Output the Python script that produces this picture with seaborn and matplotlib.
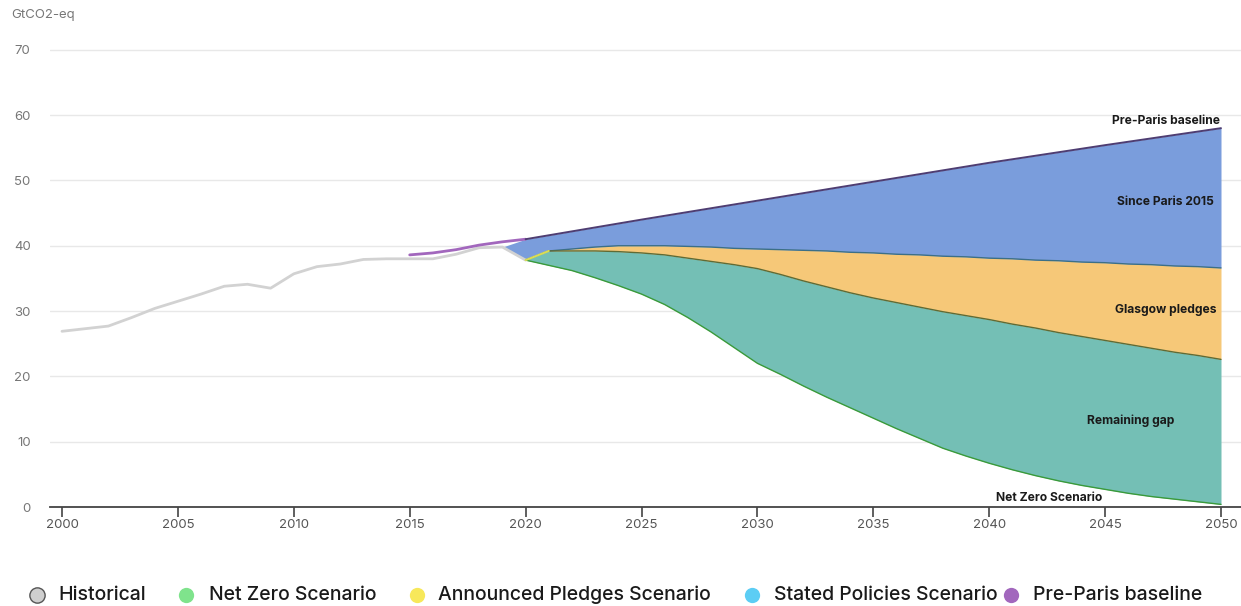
import numpy as np
import pandas as pd
import matplotlib
matplotlib.use("Agg")
import matplotlib.pyplot as plt
from matplotlib.lines import Line2D
import seaborn as sns

# ---------------- data ----------------
hist_years = [2000, 2001, 2002, 2003, 2004, 2005, 2006, 2007, 2008, 2009, 2010,
              2011, 2012, 2013, 2014, 2015, 2016, 2017, 2018, 2019, 2020]
hist_vals = [26.9, 27.3, 27.7, 29.0, 30.4, 31.5, 32.6, 33.8, 34.1, 33.5, 35.7,
             36.8, 37.2, 37.9, 38.0, 38.0, 38.0, 38.7, 39.7, 39.8, 37.8]

base_years = [2015, 2016, 2017, 2018, 2019, 2020, 2025, 2030, 2035, 2040, 2045, 2050]
base_vals = [38.6, 38.9, 39.4, 40.1, 40.6, 41.0, 44.0, 46.9, 49.8, 52.7, 55.4, 58.0]

scen_years = list(range(2020, 2051))
steps_vals = [37.8, 39.2, 39.5, 39.8, 40.0, 40.0, 40.0, 39.9, 39.8, 39.6, 39.5,
              39.4, 39.3, 39.2, 39.0, 38.9, 38.7, 38.6, 38.4, 38.3, 38.1,
              38.0, 37.8, 37.7, 37.5, 37.4, 37.2, 37.1, 36.9, 36.8, 36.6]
aps_vals = [37.8, 39.2, 39.2, 39.2, 39.1, 38.9, 38.6, 38.1, 37.6, 37.1, 36.5,
            35.6, 34.6, 33.7, 32.8, 32.0, 31.3, 30.6, 29.9, 29.3, 28.7,
            28.0, 27.4, 26.7, 26.1, 25.5, 24.9, 24.3, 23.7, 23.2, 22.6]
nze_vals = [37.8, 37.0, 36.2, 35.1, 33.9, 32.6, 31.0, 29.0, 26.8, 24.4, 22.0,
            20.3, 18.5, 16.8, 15.2, 13.6, 12.0, 10.5, 9.0, 7.8, 6.7,
            5.7, 4.8, 4.0, 3.3, 2.7, 2.1, 1.6, 1.2, 0.8, 0.4]

legend_labels = ["Historical", "Net Zero Scenario", "Announced Pledges Scenario",
                 "Stated Policies Scenario", "Pre-Paris baseline"]
legend_colors = ["#cfcfcf", "#7fe38c", "#f7e85a", "#5ccdf4", "#a267bd"]

x_ticks = [2000, 2005, 2010, 2015, 2020, 2025, 2030, 2035, 2040, 2045, 2050]
y_ticks = [0, 10, 20, 30, 40, 50, 60, 70]

# ---------------- style ----------------
sns.set_theme(style="white")
plt.rcParams['font.family'] = ['Inter', 'DejaVu Sans']

fig = plt.figure(figsize=(12.41, 6.06), dpi=100)
ax = fig.add_axes([50 / 1241, 99 / 606, 1191 / 1241, (507 - 40) / 606])

hist = pd.DataFrame({"year": hist_years, "val": hist_vals})
base = pd.DataFrame({"year": base_years, "val": base_vals})
scen = pd.DataFrame({"year": scen_years, "steps": steps_vals,
                     "aps": aps_vals, "nze": nze_vals})

# blue area: from the last historical point up to the baseline
base_interp = np.interp(scen["year"], base["year"], base["val"])
blue_x = [hist_years[-2]] + scen_years
blue_top = [hist_vals[-2]] + list(base_interp)
blue_bot = [hist_vals[-2]] + steps_vals
ax.fill_between(blue_x, blue_bot, blue_top, color="#7a9ddc", lw=0, zorder=2)
ax.fill_between(scen["year"], scen["aps"], scen["steps"], color="#f6c878", lw=0, zorder=2)
ax.fill_between(scen["year"], scen["nze"], scen["aps"], color="#74bfb5", lw=0, zorder=2)

# lines
sns.lineplot(data=hist, x="year", y="val", color="#d2d2d2", lw=2, ax=ax, zorder=3)
sns.lineplot(data=base[base["year"] <= 2020], x="year", y="val", color="#a267bd",
             lw=2, ax=ax, zorder=4)
sns.lineplot(data=base[base["year"] >= 2020], x="year", y="val", color="#4e3d72",
             lw=1.4, ax=ax, zorder=4)
sns.lineplot(data=scen[scen["year"] >= 2021], x="year", y="steps", color="#3c6f86",
             lw=1, ax=ax, zorder=4)
sns.lineplot(data=scen, x="year", y="aps", color="#5f6b35", lw=1, ax=ax, zorder=4)
ax.plot(scen_years[:2], aps_vals[:2], color="#d9dd55", lw=1.5, zorder=5)
sns.lineplot(data=scen, x="year", y="nze", color="#3a9a3a", lw=1, ax=ax, zorder=4)

# axes
ax.set_xlim(2000 - 12 / 23.18, 2050 + 20 / 23.18)
ax.set_ylim(0, 71.5)
ax.set_xticks(x_ticks)
ax.set_yticks(y_ticks)
ax.set_xlabel("")
ax.set_ylabel("")
for s in ["top", "right", "left"]:
    ax.spines[s].set_visible(False)
ax.spines["bottom"].set_color("#444444")
ax.spines["bottom"].set_linewidth(1.3)
ax.grid(axis="y", color="#e8e8e8", lw=1)
ax.set_axisbelow(True)
ax.tick_params(axis="x", direction="out", length=7, width=1.2, color="#444444",
               labelsize=9.5, labelcolor="#555555", pad=2, bottom=True)
ax.tick_params(axis="y", length=0, labelsize=9.5, labelcolor="#777777", pad=14)

fig.text(11 / 1241, 1 - 15 / 606, "GtCO2-eq", fontsize=9.5, color="#777777",
         va="center", ha="left")

# annotations
lab = dict(fontsize=8.7, fontweight="bold", color="#1a1a1a", zorder=6)
ax.text(2050 - 0.05, 59.1, "Pre-Paris baseline", ha="right", va="center", **lab)
ax.text(2049.7, 46.7, "Since Paris 2015", ha="right", va="center", **lab)
ax.text(2049.8, 30.2, "Glasgow pledges", ha="right", va="center", **lab)
ax.text(2046.1, 13.2, "Remaining gap", ha="center", va="center", **lab)
ax.text(2042.6, 1.4, "Net Zero Scenario", ha="center", va="center", **lab)

# legend (manual placement)
marker_x = [37, 186, 417, 752, 1011]
text_x = [58, 209, 438, 774, 1033]
ly = 1 - 595 / 606
for mx, tx, lbl, col in zip(marker_x, text_x, legend_labels, legend_colors):
    fig.add_artist(Line2D([mx / 1241], [ly], marker="o", markersize=11,
                          markerfacecolor=col,
                          markeredgecolor="#555555" if lbl == "Historical" else col,
                          markeredgewidth=1 if lbl == "Historical" else 0,
                          transform=fig.transFigure, linestyle="none"))
    fig.text(tx / 1241, ly, lbl, fontsize=14, color="#1a1a1a", va="center",
             ha="left", fontweight="medium")

fig.savefig("out.png", dpi=100)
